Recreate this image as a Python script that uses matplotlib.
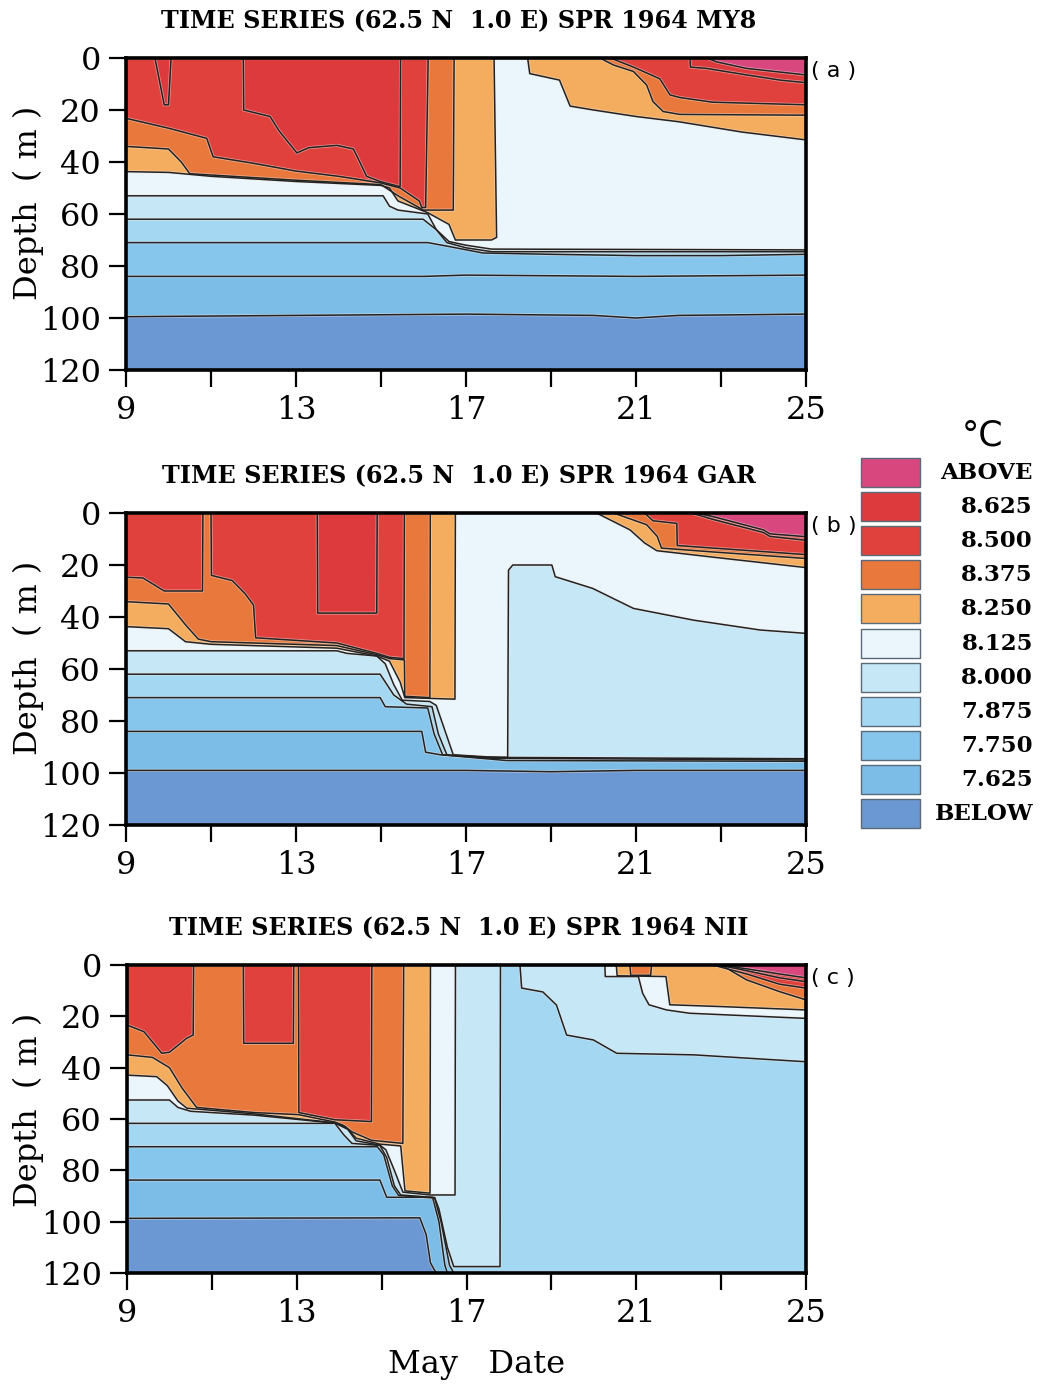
import matplotlib
matplotlib.use('Agg')
import matplotlib.pyplot as plt
from matplotlib.patches import Rectangle

W, H = 1041, 1385

# contour levels (deg C) and the fill colour of each band, from BELOW upwards
levels = [7.625, 7.75, 7.875, 8.0, 8.125, 8.25, 8.375, 8.5, 8.625, 8.75]
band_colors = ['#6b98d2', '#7cbde8', '#86c6ed', '#a4d7f2', '#c6e7f6', '#eaf6fb',
               '#f4ad5e', '#e9783c', '#e0413c', '#dd3a3e', '#d8487f']
legend_labels = ['BELOW', '7.625', '7.750', '7.875', '8.000', '8.125',
                 '8.250', '8.375', '8.500', '8.625', 'ABOVE']
day_ticks = [9, 11, 13, 15, 17, 19, 21, 23, 25]
day_labels = ['9', '', '13', '', '17', '', '21', '', '25']
depth_ticks = [0, 20, 40, 60, 80, 100, 120]

# isotherm depth (m) against day of May, one entry per level: (days, depths)
# depth 0 = isotherm absent (whole column colder), 120 = below the bottom
my8 = {
    7.625: ([9, 13, 17, 20, 21, 22, 25], [99.5, 99, 98.5, 99, 100, 99, 98.5]),
    7.75: ([9, 16, 17, 21, 25], [84, 84, 83.5, 84, 83.5]),
    7.875: ([9, 16.1, 16.6, 17.4, 19, 21, 23, 25], [71, 71, 72.5, 75, 75.5, 76, 76, 75.5]),
    8.0: ([9, 15.99, 16.3, 16.55, 17.0, 17.6, 25], [62, 62, 66, 71, 73, 74.5, 74.5]),
    8.125: ([9, 15.05, 15.2, 15.4, 16.1, 16.3, 16.6, 17.0, 17.6, 25],
            [53, 53, 57, 58.5, 60, 66, 70.6, 72, 73.5, 73.8]),
    8.25: ([9, 10, 11, 13, 15, 15.2, 15.4, 16.1, 16.6, 16.75, 17.6, 17.72, 17.66, 18.45,
            18.5, 19.2, 19.45, 20, 21, 22, 23.5, 25],
           [43.7, 44, 45.5, 47.5, 49, 50, 55, 59.5, 64, 70, 70, 69, 0, 0,
            6, 8.5, 18.5, 20, 22.5, 24.5, 28.5, 31.5]),
    8.375: ([9, 10, 10.3, 10.5, 13, 15, 15.4, 16.0, 16.7, 16.72, 20.15, 20.47, 20.94,
             21.25, 21.4, 21.64, 22.03, 25],
            [34, 35, 40, 44.5, 47, 48.7, 53, 58.5, 58.5, 0, 0, 2.7, 5.2,
             10.4, 16.8, 20.6, 21.7, 22]),
    8.5: ([9, 10, 10.9, 11.05, 12, 13, 14, 14.98, 15.45, 15.9, 15.96, 16.05, 16.11,
           20.4, 20.94, 21.56, 21.8, 22.03, 22.8, 25],
          [23.2, 27, 30.9, 38, 40.5, 43.5, 45.5, 48, 50, 55, 57.5, 57.5, 0,
           0, 3.5, 8, 14.2, 15.2, 17, 18]),
    8.625: ([9, 9.68, 9.9, 10.0, 10.06, 11.76, 11.77, 12.39, 12.6, 13.02, 13.3, 13.96,
             14.35, 14.5, 14.66, 14.98, 15.45, 15.46, 22.27, 22.28, 22.66, 23.6, 24.39, 25],
            [0, 0, 18, 18, 0, 0, 20, 22.5, 28, 36.5, 34.5, 33.6,
             35, 40, 45.5, 47.5, 49.5, 0, 0, 3.5, 4, 6.5, 8.5, 9.5]),
    8.75: ([9, 22.66, 22.9, 23.6, 25], [0, 0, 1.5, 4, 6.5]),
}

gar = {
    7.625: ([9, 17, 19, 21, 25], [99, 99, 99.5, 99, 99]),
    7.75: ([9, 15.96, 16.05, 16.4, 17.96, 25], [84, 84, 92, 93, 95.2, 95.5]),
    7.875: ([9, 14.98, 15.1, 16.1, 16.25, 16.45, 17.5, 25], [71, 71, 74.5, 75, 85, 93, 94.3, 95]),
    8.0: ([9, 14.98, 15.3, 15.6, 16.2, 16.35, 16.55, 17.5, 25],
          [62, 62, 70, 73.5, 74.5, 85, 93, 94.0, 94.5]),
    8.125: ([9, 13.96, 14.2, 14.9, 15.1, 15.3, 15.5, 16.15, 16.3, 16.7, 17.5, 17.98, 18.0,
             18.1, 19.02, 19.1, 19.98, 20.94, 22.35, 23.92, 25],
            [53, 53, 54, 55, 58, 66, 72, 72.5, 74, 93, 93.8, 94, 22,
             20, 20, 24.5, 29, 36.7, 41.2, 45, 46.3]),
    8.25: ([9, 10, 10.4, 11, 13.96, 14.9, 15.2, 15.45, 15.56, 16.74, 16.75, 20.07, 20.86,
            21.2, 21.49, 22.82, 25],
           [43.7, 44.5, 49.5, 50.5, 52, 55, 57, 65, 71, 71.6, 0, 0, 6.5,
            11.5, 14.5, 17, 21]),
    8.375: ([9, 10, 10.4, 10.7, 11, 13.96, 14.9, 15.2, 15.55, 15.56, 16.15, 16.16, 20.47,
             21.25, 21.5, 21.6, 22.82, 25],
            [34.1, 35, 43, 48.5, 49.5, 51, 54.5, 56, 56.5, 70.5, 71, 0, 0,
             4.5, 9, 13.5, 15, 17.5]),
    8.5: ([9, 9.4, 9.9, 10.8, 10.81, 11.0, 11.01, 11.5, 11.8, 12.0, 12.05, 13.96, 14.9,
           15.2, 15.54, 15.55, 21.2, 21.4, 21.96, 21.97, 22.82, 25],
          [24.7, 25, 30, 30, 0, 0, 24, 26, 31, 35.4, 48, 50, 54,
           55.5, 56, 0, 0, 3, 4, 12.5, 13.5, 16]),
    8.625: ([9, 13.5, 13.51, 14.9, 14.91, 22.3, 22.82, 24.0, 24.15, 25],
            [0, 0, 38.5, 38.5, 0, 0, 2.5, 7.5, 9, 10.5]),
    8.75: ([9, 22.4, 22.82, 24.0, 24.15, 25], [0, 0, 1.4, 6.5, 8, 9.1]),
}

nii = {
    7.625: ([9, 15.9, 16.05, 16.15, 16.25, 16.3, 25], [98.7, 98.5, 105, 116, 119, 120, 120]),
    7.75: ([9, 14.96, 15.12, 16.2, 16.35, 16.49, 16.55, 25],
           [83.8, 83.8, 90.5, 90.5, 100, 117, 120, 120]),
    7.875: ([9, 14.9, 15.05, 15.25, 15.4, 16.25, 16.4, 16.6, 16.7, 25],
            [70.8, 70.8, 74, 86, 89.8, 90.8, 100, 117, 120, 120]),
    8.0: ([9, 13.9, 14.1, 14.3, 14.96, 15.12, 15.3, 15.45, 16.25, 16.35, 16.55, 16.7,
           17.79, 17.8, 18.26, 18.3, 18.8, 19.12, 19.36, 19.99, 20.54, 22.35, 25],
          [61.7, 61.7, 66, 69.5, 70.3, 75, 86, 89.6, 90.6, 95, 110, 117.5,
           117.5, 0, 0, 9, 10.5, 15.6, 27.3, 29.2, 34.4, 35, 37.7]),
    8.125: ([9, 10.0, 10.2, 10.5, 12, 13.9, 14.2, 14.4, 14.96, 15.1, 15.3, 15.5, 16.14,
             16.73, 16.74, 20.26, 20.27, 21.05, 21.15, 21.3, 21.71, 22.26, 25],
            [52.6, 52.6, 55.5, 57, 58.5, 61.6, 64, 68.5, 70.2, 72, 80, 88.5, 89.6,
             89.6, 0, 0, 4.5, 4.5, 11, 15.5, 17.5, 18.8, 20.8]),
    8.25: ([9, 9.7, 9.95, 10.2, 10.41, 12, 13.9, 14.15, 14.4, 14.96, 15.45, 15.55, 16.14,
            16.15, 20.53, 20.55, 21.7, 21.79, 23, 25],
           [42.9, 43.5, 47, 53, 55.8, 58, 61.5, 63, 67.5, 69.8, 70.5, 88, 88.9,
            0, 0, 4.2, 4.5, 15.5, 16.2, 17.5]),
    8.375: ([9, 9.6, 10.0, 10.3, 10.64, 12, 13.04, 13.9, 14.1, 14.3, 14.76, 15.5, 15.52,
             20.85, 20.87, 21.34, 21.36, 23.0, 23.6, 24.38, 25],
            [35, 36, 40, 48, 55.5, 57.5, 58.3, 61.2, 62.5, 65, 68.3, 69.5, 0,
             0, 4, 4, 0, 0, 5.8, 10.4, 13.6]),
    8.5: ([9, 9.4, 9.82, 10.0, 10.41, 10.56, 10.57, 11.74, 11.75, 12.92, 12.93, 13.04,
           13.05, 13.9, 14.76, 14.77, 22.8, 23.6, 24.38, 25],
          [23.4, 26, 34.4, 34, 28.5, 27.3, 0, 0, 30.5, 30.5, 0, 0,
           57.5, 60.3, 61, 0, 0, 3.5, 7.5, 9]),
    8.625: ([9, 22.9, 23.4, 24.38, 25], [0, 0, 1.5, 5, 6.5]),
    8.75: ([9, 23.0, 23.6, 24.38, 25], [0, 0, 1.5, 3.5, 5]),
}

panels = [
    ('TIME SERIES (62.5 N  1.0 E) SPR 1964 MY8', '( a )', my8),
    ('TIME SERIES (62.5 N  1.0 E) SPR 1964 GAR', '( b )', gar),
    ('TIME SERIES (62.5 N  1.0 E) SPR 1964 NII', '( c )', nii),
]
# axes boxes in pixels: left, top, right, bottom
boxes = [(126, 58, 806, 370), (126, 513, 806, 825), (127, 965, 806, 1273)]


def draw_panel(ax, iso):
    ax.set_facecolor(band_colors[0])
    # paint from the coldest isotherm up: each fill covers surface -> isotherm
    for k, lev in enumerate(levels):
        t, d = iso[lev]
        xs = list(t) + [t[-1], t[0]]
        ys = list(d) + [0, 0]
        ax.fill(xs, ys, color=band_colors[k + 1], lw=0, zorder=1)
    for lev in levels:
        t, d = iso[lev]
        ax.plot(t, d, color='#f4e6e0', lw=2.2, alpha=0.5, zorder=2)
        ax.plot(t, d, color='#222222', lw=1.1, zorder=2.1)
    ax.set_xlim(9, 25)
    ax.set_ylim(120, 0)
    ax.set_xticks(day_ticks)
    ax.set_xticklabels(day_labels)
    ax.set_yticks(depth_ticks)
    ax.tick_params(direction='out', length=12, width=1.6, pad=6,
                   labelsize=23)
    for lab in ax.get_xticklabels() + ax.get_yticklabels():
        lab.set_family('DejaVu Serif')
    for sp in ax.spines.values():
        sp.set_linewidth(2.6)
        sp.set_zorder(5)


fig = plt.figure(figsize=(W / 100, H / 100), dpi=100)

for (title, tag, iso), (x0, y0, x1, y1) in zip(panels, boxes):
    ax = fig.add_axes([x0 / W, 1 - y1 / H, (x1 - x0) / W, (y1 - y0) / H])
    draw_panel(ax, iso)
    fig.text(459 / W, 1 - (y0 - 37) / H, title, ha='center', va='center',
             family='DejaVu Serif', weight='bold', fontsize=17.2)
    fig.text(811 / W, 1 - (y0 + 13) / H, tag, ha='left', va='center',
             family='DejaVu Sans', fontsize=16)
    fig.text(28 / W, 1 - (y0 + 145) / H, 'Depth  ( m )', ha='center', va='center',
             rotation=90, family='DejaVu Serif', fontsize=23)

fig.text(477 / W, 1 - 1365 / H, 'May   Date', ha='center', va='center',
         family='DejaVu Serif', fontsize=23)

# legend
lax = fig.add_axes([0, 0, 1, 1])
lax.set_xlim(0, W)
lax.set_ylim(H, 0)
lax.axis('off')
lax.text(983, 435, '°C', ha='center', va='center', family='DejaVu Sans', fontsize=25)
for i, (col, lab) in enumerate(zip(band_colors[::-1], legend_labels[::-1])):
    top = 458 + i * 34.1
    lax.add_patch(Rectangle((861, top), 59, 29, facecolor=col,
                            edgecolor='#5a6a78', lw=1.0))
    lax.text(1033, top + 15, lab, ha='right', va='center',
             family='DejaVu Serif', weight='bold', fontsize=16.5)

fig.savefig('out.png', dpi=100)
